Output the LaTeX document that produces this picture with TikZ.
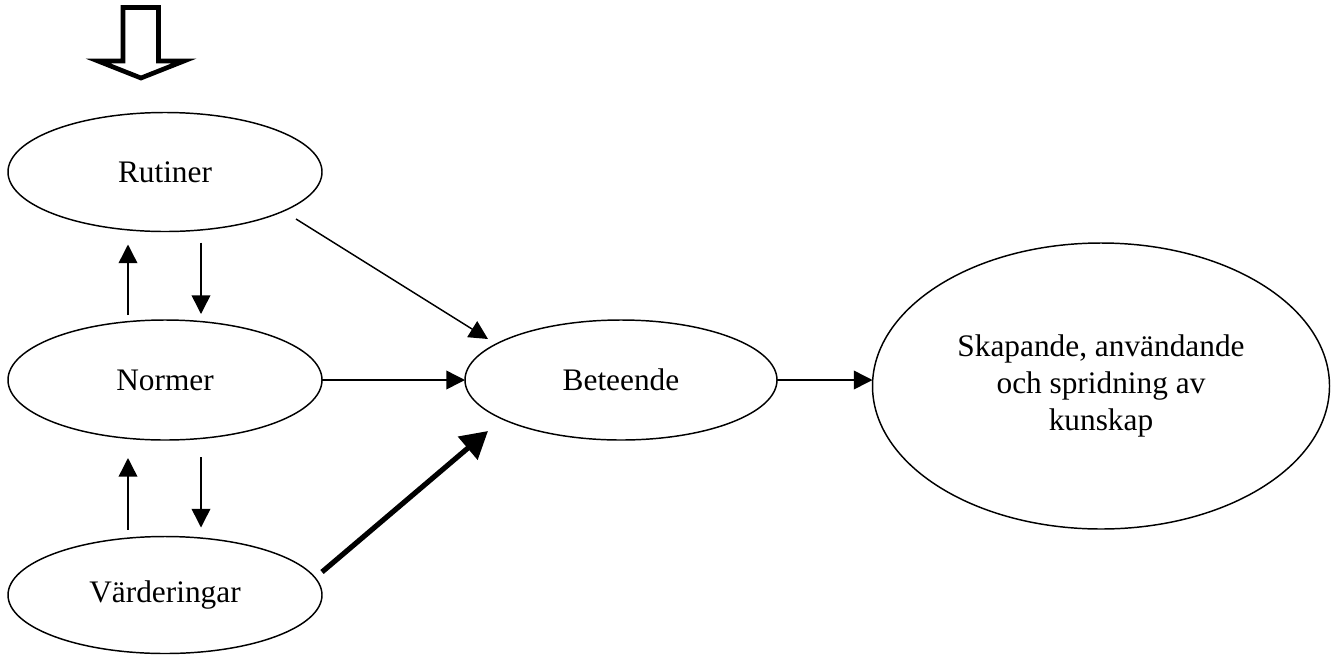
\documentclass[tikz,border=0pt]{standalone}
\usepackage{fontspec}
\setmainfont{Liberation Serif}
\usetikzlibrary{arrows.meta,shapes.geometric,calc}
\begin{document}
\begin{tikzpicture}[x=0.75pt,y=-0.75pt,
  oval/.style={ellipse, draw, line width=1.1pt, inner sep=0pt, outer sep=0pt,
    font=\fontsize{23.5}{27.75}\selectfont, align=center},
  arr/.style={line width=1.1pt, -{Triangle[length=14pt,width=14pt]}},
  thickarr/.style={line width=3.9pt, -{Triangle[length=20pt,width=22pt]}},
  blockarrow/.style={draw, line width=3.5pt, line join=miter}]
\useasboundingbox (0,0) rectangle (1334,654);

% hollow block arrow at the top
\draw[blockarrow] (123,7.5) -- (158.5,7.5) -- (158.5,61) -- (184,61) -- (141,78)
  -- (98,61) -- (123,61) -- cycle;

\node[oval, minimum width=235.5pt, minimum height=89.25pt] (rut) at (165,172) {Rutiner};
\node[oval, minimum width=235.5pt, minimum height=90pt] (nor) at (165,380) {Normer};
\node[oval, minimum width=235.5pt, minimum height=87.75pt] (var) at (165,595) {Värderingar};
\node[oval, minimum width=234pt, minimum height=90pt] (bet) at (621,380) {Beteende};
\node[oval, minimum width=342.75pt, minimum height=214.5pt] (ska) at (1101,386)
  {Skapande, användande\\och spridning av\\kunskap};

% vertical arrows between the left ovals
\draw[arr] ($(nor.north)+(-37,-5)$) -- ($(rut.south)+(-37,13)$);
\draw[arr] ($(rut.south)+(36,11)$) -- ($(nor.north)+(36,-6)$);
\draw[arr] ($(var.north)+(-37,-7)$) -- ($(nor.south)+(-37,18)$);
\draw[arr] ($(nor.south)+(36,17)$) -- ($(var.north)+(36,-9)$);

% arrows towards Beteende
\draw[arr] ($(rut.center)+(131,47)$) -- ($(bet.center)+(-133,-41)$);
\draw[arr] (nor.east) -- (bet.west);
\draw[thickarr] ($(var.center)+(157,-23)$) -- ($(bet.center)+(-133,51)$);

% Beteende to Skapande
\draw[arr] (bet.east) -- (bet.east -| ska.west);
\end{tikzpicture}
\end{document}
